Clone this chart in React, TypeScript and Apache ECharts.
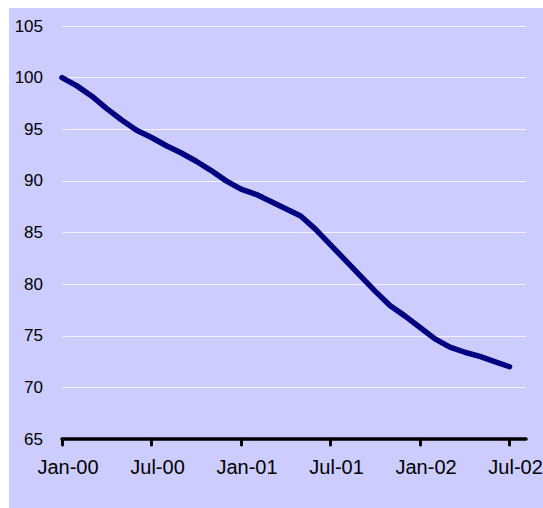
import React, { useEffect, useRef } from "react";
import * as echarts from "echarts";

const monthLabels = [
  "Jan-00", "Feb-00", "Mar-00", "Apr-00", "May-00", "Jun-00", "Jul-00", "Aug-00", "Sep-00", "Oct-00", "Nov-00", "Dec-00",
  "Jan-01", "Feb-01", "Mar-01", "Apr-01", "May-01", "Jun-01", "Jul-01", "Aug-01", "Sep-01", "Oct-01", "Nov-01", "Dec-01",
  "Jan-02", "Feb-02", "Mar-02", "Apr-02", "May-02", "Jun-02", "Jul-02",
];

const indexValues = [
  100.0, 99.2, 98.2, 97.0, 95.9, 94.9, 94.2, 93.4, 92.7, 91.9, 91.0, 90.0,
  89.2, 88.7, 88.0, 87.3, 86.6, 85.3, 83.8, 82.3, 80.8, 79.3, 77.9, 76.9,
  75.8, 74.7, 73.9, 73.4, 73.0, 72.5, 72.0,
];

const tickMonths = [0, 6, 12, 18, 24, 30];
const yTicks = { min: 65, max: 105, interval: 5 };

const W = 560;
const H = 520;

export default function App() {
  const ref = useRef<HTMLDivElement>(null);
  useEffect(() => {
    if (!ref.current) return;
    const chart = echarts.init(ref.current, null, { renderer: "svg" });
    const font = "'Liberation Sans', Arial, sans-serif";
    chart.setOption({
      animation: false,
      backgroundColor: "#CCCCFF",
      grid: { left: 53, top: 18, right: W + 9 - 526, bottom: H + 8 - 439, containLabel: false },
      xAxis: {
        type: "value",
        min: 0,
        max: 31.1,
        interval: 6,
        splitLine: { show: false },
        axisLine: { show: true, lineStyle: { color: "#000000", width: 3.5, cap: "round" } },
        axisTick: {
          show: true,
          customValues: tickMonths,
          length: 6,
          inside: false,
          lineStyle: { color: "#000000", width: 3, cap: "round" },
        },
        axisLabel: {
          customValues: tickMonths,
          formatter: (v: number) => monthLabels[Math.round(v)] ?? "",
          color: "#000000",
          fontSize: 20,
          fontFamily: font,
          margin: 18,
          padding: [0, 0, 0, 12],
        },
      },
      yAxis: {
        type: "value",
        min: yTicks.min,
        max: yTicks.max,
        interval: yTicks.interval,
        axisLine: { show: false },
        axisTick: { show: false },
        splitLine: { show: true, lineStyle: { color: "#F2F2FF", width: 1 } },
        axisLabel: { color: "#000000", fontSize: 17, fontFamily: font, margin: 19 },
      },
      series: [
        {
          type: "line",
          data: indexValues.map((v, i) => [i, v]),
          showSymbol: false,
          smooth: false,
          lineStyle: { color: "#000080", width: 5.5, cap: "round", join: "round" },
        },
      ],
    });
    return () => chart.dispose();
  }, []);
  return (
    <div
      ref={ref}
      style={{ position: "fixed", left: 9, top: 8, width: W, height: H }}
    />
  );
}
